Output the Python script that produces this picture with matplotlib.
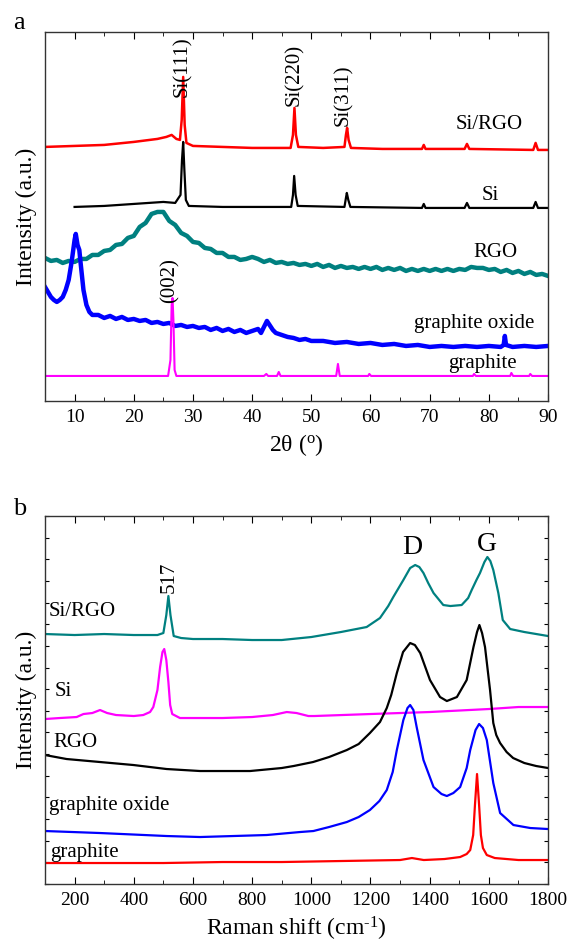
import matplotlib
matplotlib.use('Agg')
import matplotlib.pyplot as plt
from matplotlib.ticker import MultipleLocator

plt.rcParams['font.family'] = ['Liberation Serif', 'DejaVu Serif']
plt.rcParams['mathtext.fontset'] = 'custom'
plt.rcParams['mathtext.rm'] = 'Liberation Serif'
plt.rcParams['mathtext.it'] = 'Liberation Serif:italic'

# ---------------- (a) XRD, curves are stacked with offsets (a.u.) ----------------
xrd_sirgo_x = [5, 10, 15, 20, 24, 25.5, 26.4, 27.2, 27.8, 28.1, 28.35, 28.6, 28.9, 30, 35, 40,
               46.5, 46.9, 47.15, 47.4, 47.8, 52, 55.6, 55.85, 56.05, 56.3, 56.7, 62,
               68.7, 69.0, 69.3, 75.9, 76.3, 76.7, 87.5, 87.9, 88.3, 90]
xrd_sirgo_y = [254, 255, 256, 259, 262, 264, 266, 262, 261, 281, 324, 276, 258, 255, 254, 253,
               253, 266, 293, 266, 254, 253, 254, 266, 273, 261, 253, 252,
               252, 256, 252, 252, 257, 252, 251, 258, 251, 251]

xrd_si_x = [10, 15, 20, 25, 27, 27.9, 28.15, 28.35, 28.55, 28.8, 29.3, 35, 40,
            46.6, 46.9, 47.1, 47.35, 47.7, 55.6, 55.85, 56.0, 56.25, 56.6,
            68.7, 69, 69.3, 75.9, 76.3, 76.7, 87.5, 87.9, 88.3, 90]
xrd_si_y = [194, 195, 197, 199, 198, 206, 241, 259, 231, 201, 195, 194, 194,
            194, 206, 225, 206, 195, 194, 203, 208, 201, 194,
            193, 197, 193, 193, 198, 193, 193, 199, 193, 193]

xrd_rgo_x = list(range(5, 91))
xrd_rgo_y = [143, 140, 141, 138, 140, 139, 142, 142, 146, 146,
             150, 151, 156, 157, 163, 165, 174, 178, 187, 189,
             189, 180, 176, 168, 165, 159, 158, 153, 152, 148,
             148, 144, 144, 141, 142, 144, 142, 139, 141, 138,
             139, 137, 138, 136, 137, 135, 137, 134, 136, 133,
             135, 133, 134, 132, 134, 132, 134, 131, 133, 131,
             133, 130, 132, 130, 132, 130, 132, 130, 132, 130,
             132, 131, 134, 133, 133, 131, 132, 129, 131, 128,
             130, 127, 129, 126, 127, 125]

xrd_go_x = [5, 5.5, 6, 6.5, 7, 7.5, 8, 8.5, 9, 9.5, 10, 10.2, 10.5, 10.8, 11, 11.5, 12, 12.5, 13,
            14, 15, 16, 17, 18, 19, 20, 21, 22, 23, 24, 25, 26, 27, 28, 29, 30, 31, 32, 33, 34,
            35, 36, 37, 38, 39, 40, 41, 41.5, 42.5, 43.5, 44, 45, 46, 47, 48, 49, 50, 52, 54,
            56, 58, 60, 62, 64, 66, 68, 70, 72, 74, 76, 78, 80, 82, 82.5, 82.7, 82.9, 84, 86,
            88, 90]
xrd_go_y = [114, 109, 104, 101, 99, 101, 104, 111, 121, 139, 161, 167, 156, 151, 139, 111, 96, 89, 86,
            86, 83, 85, 82, 84, 81, 82, 80, 81, 78, 79, 77, 78, 75, 76, 74, 75, 73, 74, 71,
            73, 70, 72, 69, 71, 68, 70, 72, 68, 80, 71, 68, 66, 64, 63, 61, 62, 60, 60, 58,
            59, 57, 58, 56, 57, 55, 56, 54, 55, 54, 55, 54, 55, 54, 56, 65, 56, 54, 55,
            54, 55]

xrd_gr_x = [5, 25.8, 26.2, 26.4, 26.55, 26.7, 26.9, 27.2, 42, 42.4, 42.7, 44.2, 44.5, 44.8,
            54.2, 54.5, 54.8, 59.6, 59.8, 60.1, 77.3, 77.5, 77.8, 83.6, 83.8, 84.1,
            86.8, 87, 87.3, 90]
xrd_gr_y = [25, 25, 41, 96, 103, 81, 31, 25, 25, 27, 25, 25, 29, 25,
            25, 37, 25, 25, 27, 25, 25, 27, 25, 25, 28, 25, 25, 27, 25, 25]

# ---------------- (b) Raman ----------------
ram_sirgo_x = [100, 200, 300, 400, 480, 500, 510, 517, 524, 535, 560, 600, 700, 800, 900, 1000,
               1100, 1187, 1232, 1260, 1277, 1295, 1311, 1334, 1351, 1365, 1379, 1395, 1413,
               1446, 1470, 1508, 1530, 1542, 1558, 1570, 1585, 1595, 1605, 1615, 1632, 1647,
               1672, 1720, 1760, 1800]
ram_sirgo_y = [250, 249, 250, 249, 249, 251, 269, 288, 269, 248, 246, 245, 245, 244, 244, 247,
               252, 257, 266, 278, 287, 296, 304, 316, 319, 317, 311, 301, 291,
               279, 278, 279, 286, 294, 304, 311, 322, 327, 323, 314, 291, 264,
               255, 252, 250, 248]

ram_si_x = [100, 150, 207, 230, 260, 286, 310, 340, 400, 432, 455, 466, 480, 489, 497, 503, 510,
            517, 523, 530, 556, 600, 700, 800, 870, 917, 950, 990, 1010, 1200, 1400, 1600,
            1700, 1800]
ram_si_y = [165, 166, 167, 170, 171, 174, 171, 169, 168, 169, 172, 177, 194, 217, 232, 235, 224,
            202, 179, 170, 166, 166, 166, 167, 169, 172, 171, 168, 168, 170, 172, 175,
            177, 177]

ram_rgo_x = [100, 173, 286, 399, 511, 624, 793, 900, 940, 1006, 1060, 1120, 1160, 1198, 1232,
             1255, 1270, 1289, 1310, 1334, 1350, 1368, 1401, 1435, 1458, 1492, 1525, 1548,
             1560, 1568, 1577, 1587, 1604, 1615, 1625, 1638, 1660, 1682, 1720, 1760, 1800]
ram_rgo_y = [129, 125, 122, 119, 115, 113, 113, 116, 118, 122, 127, 134, 140, 151, 162,
             176, 189, 211, 232, 241, 239, 231, 204, 187, 183, 187, 204, 237,
             252, 259, 251, 237, 194, 161, 149, 141, 132, 126, 121, 118, 116]

ram_go_x = [100, 286, 511, 624, 849, 962, 1007, 1060, 1120, 1160, 1198, 1230, 1255, 1275, 1289,
            1311, 1325, 1334, 1345, 1356, 1379, 1413, 1440, 1458, 1480, 1503, 1525, 1537,
            1555, 1567, 1580, 1593, 1615, 1638, 1683, 1740, 1800]
ram_go_y = [53, 51, 48, 47, 49, 52, 53, 57, 62, 67, 74, 83, 94, 112, 134,
            164, 176, 179, 174, 157, 124, 97, 90, 88, 91, 97, 116, 134,
            154, 160, 156, 144, 101, 71, 59, 56, 55]

ram_gr_x = [100, 300, 500, 700, 900, 1100, 1300, 1340, 1380, 1450, 1503, 1525, 1537, 1547,
            1553, 1560, 1567, 1573, 1580, 1593, 1620, 1700, 1800]
ram_gr_y = [21, 21, 21, 22, 22, 23, 24, 26, 24, 25, 27, 30, 34, 49,
            79, 110, 79, 49, 36, 29, 26, 24, 24]

fig = plt.figure(figsize=(5.71, 9.47), dpi=100)

"""
    上图 XRD
"""
ax1 = fig.add_axes([0.0788, 0.5766, 0.881, 0.3897])
ax1.plot(xrd_sirgo_x, xrd_sirgo_y, color='#ff0000', lw=1.8)
ax1.plot(xrd_si_x, xrd_si_y, color='black', lw=1.6)
ax1.plot(xrd_rgo_x, xrd_rgo_y, color='#008080', lw=3.2)
ax1.plot(xrd_go_x, xrd_go_y, color='#0000ff', lw=3.2)
ax1.plot(xrd_gr_x, xrd_gr_y, color='#ff00ff', lw=1.5)
ax1.set_xlim(5, 90)
ax1.set_ylim(0, 369)
ax1.set_yticks([])
ax1.xaxis.set_major_locator(MultipleLocator(10))
ax1.xaxis.set_minor_locator(MultipleLocator(5))
ax1.tick_params(axis='x', which='both', direction='in', top=True, labelsize=14, pad=6)
ax1.tick_params(axis='x', which='major', length=5)
ax1.tick_params(axis='x', which='minor', length=3)
ax1.set_xlabel('2θ ($^{\\mathrm{o}}$)', fontsize=17, labelpad=4)
ax1.set_ylabel('Intensity (a.u.)', fontsize=17, labelpad=6)

ax1.text(28.15, 304, 'Si(111)', rotation=90, ha='center', va='bottom', fontsize=15)
ax1.text(47.1, 295, 'Si(220)', rotation=90, ha='center', va='bottom', fontsize=15)
ax1.text(55.4, 275, 'Si(311)', rotation=90, ha='center', va='bottom', fontsize=15)
ax1.text(26.2, 98, '(002)', rotation=90, ha='center', va='bottom', fontsize=15)
ax1.text(74.3, 272, 'Si/RGO', va='baseline', fontsize=15)
ax1.text(78.8, 201, 'Si', va='baseline', fontsize=15)
ax1.text(77.3, 144, 'RGO', va='baseline', fontsize=15)
ax1.text(67.4, 73, 'graphite oxide', va='baseline', fontsize=15)
ax1.text(73.1, 33, 'graphite', va='baseline', fontsize=15)
fig.text(0.023, 0.969, 'a', fontsize=19, va='baseline')

"""
    下图 Raman
"""
ax2 = fig.add_axes([0.0788, 0.0665, 0.881, 0.3886])
ax2.plot(ram_sirgo_x, ram_sirgo_y, color='#008080', lw=1.6)
ax2.plot(ram_si_x, ram_si_y, color='#ff00ff', lw=1.6)
ax2.plot(ram_rgo_x, ram_rgo_y, color='black', lw=1.6)
ax2.plot(ram_go_x, ram_go_y, color='#0000ff', lw=1.6)
ax2.plot(ram_gr_x, ram_gr_y, color='#ff0000', lw=1.6)
ax2.set_xlim(100, 1800)
ax2.set_ylim(0, 368)
ax2.xaxis.set_major_locator(MultipleLocator(200))
ax2.xaxis.set_minor_locator(MultipleLocator(100))
ax2.yaxis.set_major_locator(MultipleLocator(368 / 17))
ax2.tick_params(axis='x', which='both', direction='in', top=True, labelsize=14, pad=6)
ax2.tick_params(axis='x', which='major', length=5)
ax2.tick_params(axis='x', which='minor', length=3)
ax2.tick_params(axis='y', direction='in', left=True, right=True, labelleft=False, length=3)
ax2.set_xlabel(r'Raman shift (cm$^{\text{-1}}$)', fontsize=17, labelpad=4)
ax2.set_ylabel('Intensity (a.u.)', fontsize=17, labelpad=6)

ax2.text(519, 291, '517', rotation=90, ha='center', va='bottom', fontsize=15)
ax2.text(1340, 330, 'D', ha='center', va='baseline', fontsize=20)
ax2.text(1593, 333, 'G', ha='center', va='baseline', fontsize=20)
ax2.text(113, 268, 'Si/RGO', va='baseline', fontsize=15)
ax2.text(133, 188, 'Si', va='baseline', fontsize=15)
ax2.text(128, 137, 'RGO', va='baseline', fontsize=15)
ax2.text(113, 74, 'graphite oxide', va='baseline', fontsize=15)
ax2.text(116, 27, 'graphite', va='baseline', fontsize=15)
fig.text(0.023, 0.456, 'b', fontsize=19, va='baseline')

for ax in (ax1, ax2):
    for s in ax.spines.values():
        s.set_linewidth(1.0)
        s.set_color('#333333')

fig.savefig('out.png', dpi=100)
